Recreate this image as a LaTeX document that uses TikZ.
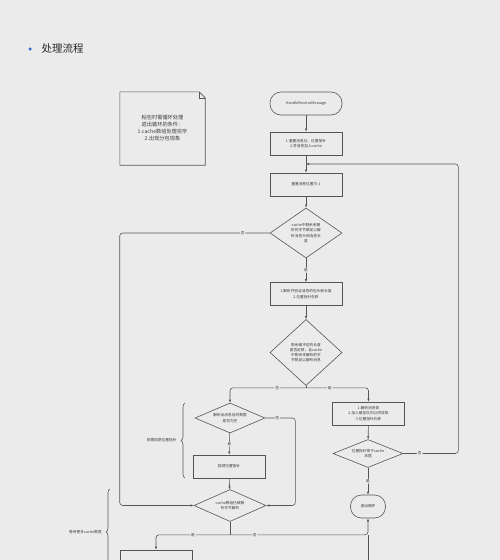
\documentclass[tikz,border=0pt]{standalone}
\usepackage{fontspec}
\setmainfont{Noto Sans CJK SC}
\usetikzlibrary{arrows.meta,positioning,calc,shapes.geometric,decorations.pathreplacing}
\definecolor{cBg}{HTML}{EBEBEB}
\definecolor{cLine}{HTML}{555555}
\definecolor{cText}{HTML}{3C3C3C}
\definecolor{cDot}{HTML}{3B6FD4}

\begin{document}
\begin{tikzpicture}[
  x=1pt, y=-1pt,
  % ── kieu chung: hop, nhan, mui ten ──
  tiny/.style={font=\fontsize{3.7}{5.2}\selectfont, text=cText},
  bx/.style={tiny, draw=cLine, line width=0.6pt, minimum width=72pt,
             minimum height=23pt, align=center, inner sep=1pt},
  tm/.style={bx, rounded corners=11pt},
  dm/.style={tiny, diamond, draw=cLine, line width=0.6pt, align=center,
             inner sep=0pt},
  lb/.style={tiny, fill=cBg, inner sep=1pt},
  a/.style={-{Latex[length=3pt,width=2.4pt]}, draw=cLine, line width=0.6pt,
            rounded corners=3pt},
  l/.style={draw=cLine, line width=0.6pt, rounded corners=3pt},
  br/.style={draw=cLine, line width=0.6pt, decorate,
             decoration={brace, amplitude=4pt}},
  bt/.style={tiny, anchor=east},
]
\useasboundingbox (0,0) rectangle (500,560);
\clip (0,0) rectangle (500,560);
\fill[cBg] (0,0) rectangle (500,560);

% ── tieu de ──
\node[font=\fontsize{10.5}{12}\selectfont, text=black!85, anchor=west] (hd) at (38,49) {处理流程};
\node[circle, fill=cDot, inner sep=0pt, minimum size=3.4pt, left=6pt of hd] (dot) {};

% ── ghi chu ──
\node[font=\fontsize{5.2}{7}\selectfont, text=cText, align=center,
      minimum width=85pt, minimum height=73pt] (note) at (162.5,128.5)
  {粘包时需循环处理\\退出循环的条件：\\1.cache数组处理完毕\\2.出现分包现象};
\draw[cLine, line width=0.6pt] (note.north west) -- ($(note.north east)+(-6,0)$)
  -- ($(note.north east)+(0,6)$) -- (note.south east) -- (note.south west) -- cycle;
\draw[cLine, line width=0.5pt] ($(note.north east)+(-6,0)$) -- ($(note.north east)+(-6,6)$)
  -- ($(note.north east)+(0,6)$);

% ── cot chinh ──
\node[tm] (st) at (306,103.5) {HandleReceiveMessage};
\node[bx] (b1) at (306,143.5) {1.重置消息位、位置指针\\2.将消息加入cache};
\node[bx] (b2) at (306,184.5) {重置消息位置为-1};
\node[dm, aspect=1.5, minimum width=72pt, minimum height=50pt] (d1) at (306,233)
  {cache中剩余未解\\析的字节数足以解\\析消息头和消息长\\度};
\node[bx] (b3) at (306,294) {1.解析并验证消息的包头和长度\\2.位置指针右移};
\node[dm, aspect=1.1, minimum width=72pt, minimum height=66pt] (d2) at (306,352.5)
  {剩余缓冲区的长度\\是否足够，且cache\\中剩余未解析的字\\节数足以解析消息};

% ── nhanh trai ──
\node[dm, aspect=2.4, minimum width=70pt, minimum height=30pt] (d3) at (230,418)
  {解析出消息后的数据\\是否为空};
\node[bx] (b4) at (229,466.5) {回溯位置指针};
\node[dm, aspect=2.4, minimum width=72pt, minimum height=32pt] (d4) at (230,505.5)
  {cache数组已被解\\析字节解析};
\node[bx, minimum height=25pt] (b6) at (156,562.5) {};

% ── nhanh phai ──
\node[bx] (b5) at (368.5,413.5) {1.解析消息体\\2.加入缓存队列以供读取\\3.位置指针右移};
\node[dm, aspect=2.4, minimum width=70pt, minimum height=28pt] (d5) at (368,453.5)
  {位置指针等于cache\\末尾};
\node[tm, minimum width=35pt] (en) at (368,506.5) {退出循环};

% ── diem noi ──
\coordinate (j1) at ($(b1.south)!0.5!(b2.north)$);
\coordinate (j2) at ($(d2.south)+(0,2)$);
\coordinate (j4) at ($(d4.south)+(0,13)$);
\coordinate (lo) at (368,580);

% ── mui ten ──
\draw[a] (st) -- (b1);
\draw[a] (b1) -- (b2);
\draw[a] (b2) -- (d1);
\draw[a] (d1) -- node[lb]{是} (b3);
\draw[a] (d1.west) -- node[lb, pos=0.18]{否} ++(-150,0) |- (d4.west);
\draw[a] (b3) -- (d2);
\draw[l] (d2.south) -- (j2);
\draw[a] (j2) -| node[lb, pos=0.19]{否} (d3.north);
\draw[a] (j2) -| node[lb, pos=0.19]{是} (b5.north);
\draw[a] (d3.east) -- node[lb, pos=0.4]{否} ++(30,0) |- (d4.east);
\draw[a] (d3) -- node[lb]{是} (b4);
\draw[a] (b4) -- (d4);
\draw[a] (b5) -- (d5);
\draw[a] (d5) -- node[lb]{是} (en);
\draw[a] (d5.east) -- node[lb, pos=0.3]{否} ++(55,0) |- (j1);
\draw[l] (d4.south) -- (j4);
\draw[a] (j4) -| node[lb, pos=0.25]{是} (b6.north);
\draw[a] (j4) -| node[lb, pos=0.09]{否} (en.south);
\draw[l] (lo) -- (lo |- j4);

% ── ngoac ──
\draw[br] (185,478) -- (185,403);
\node[bt] (t1) at (180,440.5) {按需回溯位置指针};
\draw[br] (110,575) -- (110,489);
\node[bt] (t2) at (105,532) {等待更多cache数据};
\end{tikzpicture}
\end{document}
